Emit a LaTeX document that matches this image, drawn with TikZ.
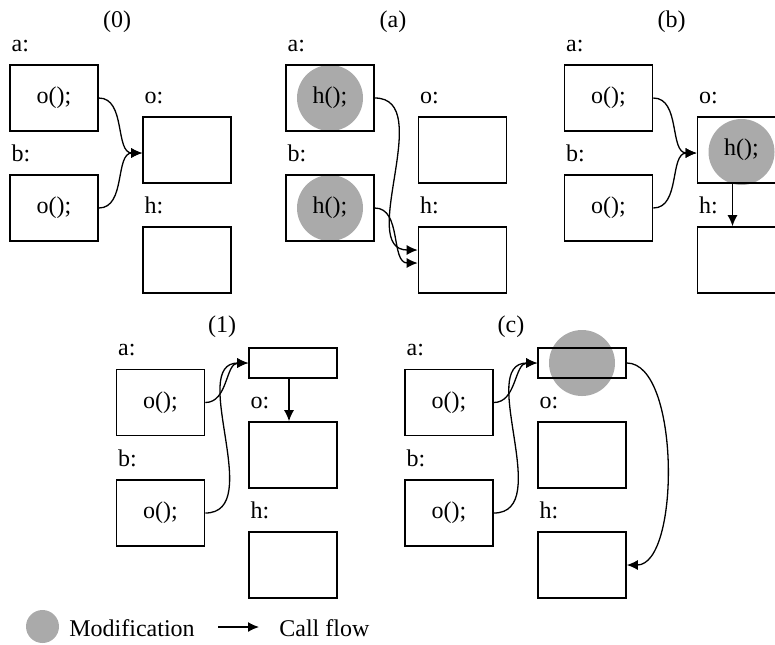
\documentclass[tikz,border=0pt]{standalone}
\usepackage{fontspec}
\setmainfont{Liberation Serif}
\usetikzlibrary{arrows.meta,positioning}
\definecolor{modgray}{RGB}{170,170,170}

\begin{document}
\begin{tikzpicture}[x=0.5pt,y=-0.5pt,
    font=\fontsize{12}{14}\selectfont,
    box/.style={draw, line width=0.8pt, minimum width=44pt, minimum height=33pt, inner sep=0pt},
    slot/.style={box, minimum height=15pt},
    mod/.style={circle, fill=modgray, minimum size=33pt, inner sep=0pt},
    lbl/.style={inner sep=0pt},
    ttl/.style={inner sep=0pt, anchor=base},
    flow/.style={-{Latex[length=5.5pt,width=5pt]}, line width=0.65pt}]
    \clip (0,0) rectangle (775,644);

    % (0): a and b both call o
    \node[ttl] (t0) at (117,27.5) {(0)};
    \node[box] (a0) at (54,98) {o();};
    \node[box] (b0) at (54,208) {o();};
    \node[box] (o0) at (187,150) {};
    \node[box] (h0) at (187,260) {};
    \foreach \n/\t in {a0/a,b0/b,o0/o,h0/h}
        \node[lbl, above right=6pt and 1pt of \n.north west] (\n-l) {\t:};
    \draw[flow] (a0.east) to[out=0,in=180] ([yshift=-1.5pt]o0.west);
    \draw[flow] (b0.east) to[out=0,in=180] ([yshift=-1.5pt]o0.west);

    % (a): every caller patched
    \node[ttl] (ta) at (393,27.5) {(a)};
    \node[mod] (maa) at (330,98) {};
    \node[box] (aa) at (330,98) {h();};
    \node[mod] (mba) at (330,208) {};
    \node[box] (ba) at (330,208) {h();};
    \node[box] (oa) at (462.5,150) {};
    \node[box] (ha) at (462.5,260) {};
    \foreach \n/\t in {aa/a,ba/b,oa/o,ha/h}
        \node[lbl, above right=6pt and 1pt of \n.north west] (\n-l) {\t:};
    \draw[flow] (aa.east) to[out=0,in=180] ([yshift=5pt]ha.west);
    \draw[flow] (ba.east) to[out=0,in=180] ([yshift=-1.5pt]ha.west);

    % (b): callee patched
    \node[ttl] (tb) at (671.5,27.5) {(b)};
    \node[box] (ab) at (608.5,98) {o();};
    \node[box] (bb) at (608.5,208) {o();};
    \node[mod] (mob) at (741.5,152) {};
    \node[box] (ob) at (741.5,150) {h();};
    \node[box] (hb) at (741.5,260) {};
    \foreach \n/\t in {ab/a,bb/b,ob/o,hb/h}
        \node[lbl, above right=6pt and 1pt of \n.north west] (\n-l) {\t:};
    \draw[flow] (ab.east) to[out=0,in=180] ([yshift=-1.5pt]ob.west);
    \draw[flow] (bb.east) to[out=0,in=180] ([yshift=-1.5pt]ob.west);
    \draw[flow] ([xshift=-4.5pt]ob.south) -- ([xshift=-4.5pt]hb.north);

    % (1): calls go through a slot first
    \node[ttl] (t1) at (222,332.5) {(1)};
    \node[box] (a1) at (160.5,402.5) {o();};
    \node[box] (b1) at (160.5,513) {o();};
    \node[slot] (s1) at (293,363) {};
    \node[box] (o1) at (293,455) {};
    \node[box] (h1) at (293,565) {};
    \foreach \n/\t in {a1/a,b1/b,o1/o,h1/h}
        \node[lbl, above right=6pt and 1pt of \n.north west] (\n-l) {\t:};
    \draw[flow] (a1.east) to[out=0,in=180] (s1.west);
    \draw[flow] (b1.east) to[out=0,in=180] (s1.west);
    \draw[flow] ([xshift=-2pt]s1.south) -- ([xshift=-2pt]o1.north);

    % (c): slot patched
    \node[ttl] (tc) at (511,332.5) {(c)};
    \node[box] (ac) at (449,402.5) {o();};
    \node[box] (bc) at (449,513) {o();};
    \node[mod] (msc) at (582,363) {};
    \node[slot] (sc) at (582,363) {};
    \node[box] (oc) at (582,455) {};
    \node[box] (hc) at (582,565) {};
    \foreach \n/\t in {ac/a,bc/b,oc/o,hc/h}
        \node[lbl, above right=6pt and 1pt of \n.north west] (\n-l) {\t:};
    \draw[flow] (ac.east) to[out=0,in=180] (sc.west);
    \draw[flow] (bc.east) to[out=0,in=180] (sc.west);
    \draw[flow] (sc.east) to[out=0,in=0,looseness=0.68] (hc.east);

    % legend
    \node[mod, minimum size=16.5pt] (lgmod) at (42.5,626.5) {};
    \node[lbl, anchor=base west] (lgmodtxt) at (69,636) {Modification};
    \coordinate (lgfrom) at (218,627);
    \coordinate (lgto) at (259,627);
    \draw[flow] (lgfrom) -- (lgto);
    \node[lbl, anchor=base west] (lgcall) at (279,636) {Call flow};
\end{tikzpicture}
\end{document}
